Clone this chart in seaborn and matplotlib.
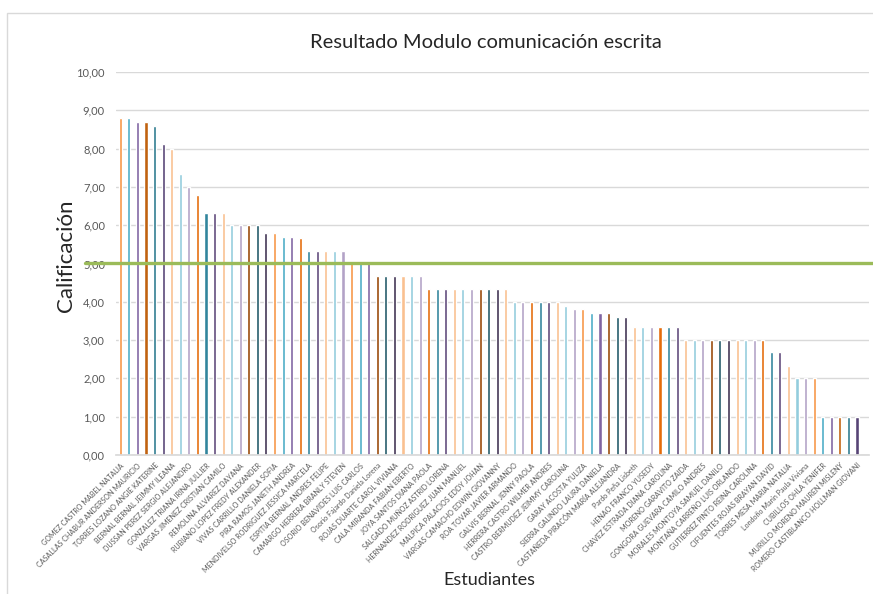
import matplotlib
matplotlib.use('Agg')
import matplotlib.pyplot as plt
import seaborn as sns
import pandas as pd
import numpy as np
from matplotlib.patches import Rectangle

# Calificaciones (87 estudiantes, ordenadas de mayor a menor)
notas = [8.8, 8.8, 8.7, 8.7, 8.6, 8.13, 8.0, 7.33, 7.0, 6.8,
         6.33, 6.33, 6.33, 6.0, 6.0, 6.0, 6.0, 5.8, 5.8, 5.7,
         5.7, 5.67, 5.33, 5.33, 5.33, 5.33, 5.33, 5.0, 5.0, 5.0,
         4.67, 4.67, 4.67, 4.67, 4.67, 4.67,
         4.33, 4.33, 4.33, 4.33, 4.33, 4.33, 4.33, 4.33, 4.33, 4.33,
         4.0, 4.0, 4.0, 4.0, 4.0, 4.0,
         3.9, 3.8, 3.8, 3.7, 3.7, 3.7, 3.6, 3.6,
         3.33, 3.33, 3.33, 3.33, 3.33, 3.33,
         3.0, 3.0, 3.0, 3.0, 3.0, 3.0, 3.0, 3.0, 3.0, 3.0,
         2.7, 2.7, 2.33, 2.0, 2.0, 2.0,
         1.0, 1.0, 1.0, 1.0, 1.0]

# Solo se rotula un estudiante de cada dos (como en el original)
etiquetas = [
    "GOMEZ CASTRO MABEL NATALIA", "CASALLAS CHABUR ANDERSON MAURICIO",
    "TORRES LOZANO ANGIE KATERINE", "BERNAL BERNAL JEIMMY ILEANA",
    "DUSSAN PEREZ SERGIO ALEJANDRO", "GONZALEZ TRIANA IRINA JULLIER",
    "VARGAS JIMENEZ CRISTIAN CAMILO", "REMOLINA ALVAREZ DAYANA",
    "RUBIANO LOPEZ FREDY ALEXANDER", "VIVAS CARRILLO DANIELA SOFIA",
    "PIRA RAMOS JANETH ANDREA", "MENDIVELSO RODRIGUEZ JESSICA MARCELA",
    "ESPITIA BERNAL ANDRES FELIPE", "CAMARGO HERRERA BRANLY STEVEN",
    "OSORIO BENAVIDES LUIS CARLOS", "Osorio Fajardo Daniela Lorena",
    "ROJAS DUARTE CAROL VIVIANA", "CALA MIRANDA FABIAN EBERTO",
    "JOYA SANTOS DIANA PAOLA", "SALGADO MUÑOZ ASTRID LORENA",
    "HERNANDEZ RODRIGUEZ JUAN MANUEL", "MALPICA PALACIOS EDDY JOHAN",
    "VARGAS CAMACHO EDWIN GIOVANNY", "ROA TOVAR JAVIER ARMANDO",
    "GALVIS BERNAL JENNY PAOLA", "HERRERA CASTRO WILMER ANDRES",
    "CASTRO BERMUDEZ JEIMMY CAROLINA", "GARAY ACOSTA YULIZA",
    "SIERRA GALINDO LAURA DANIELA", "CASTAÑEDA PIRACÓN MARÍA ALEJANDRA",
    "Pardo Peña Lisbeth", "HENAO FRANCO YUSEDY",
    "CHAVEZ ESTRADA DIANA CAROLINA", "MORENO GARAVITO ZAIDA",
    "GONGORA GUEVARA CAMILO ANDRES", "MORALES MONTOYA SAMUEL DANILO",
    "MONTAÑA CARREÑO LUIS ORLANDO", "GUTIERREZ PINTO REINA CAROLINA",
    "CIFUENTES ROJAS BRAYAN DAVID", "TORRES MESA MARIA NATALIA",
    "Londoño Marín Paula Viviana", "CUBILLOS OHLA YENIFER",
    "MURILLO MORENO MAUREN MISLENY", "ROMERO CASTIBLANCO HOLLMAN GIOVANI",
]

# Colores tipo Excel: familias naranja / aguamarina / morado con distintos tonos
tonos = {
    'base':    ["#F79646", "#4BACC6", "#8064A2"],
    'dark':    ["#C0620F", "#2C7A8F", "#574475"],
    'mid':     ["#E46C0A", "#31859C", "#5F497A"],
    'light':   ["#FAC090", "#93CDDD", "#B3A2C7"],
    'darkest': ["#984807", "#215968", "#3F3151"],
}
secuencia = ['base', 'dark', 'light', 'mid', 'light', 'darkest', 'base', 'mid',
             'light', 'base', 'darkest', 'light', 'mid', 'light', 'darkest',
             'light', 'mid', 'light', 'base', 'darkest', 'light', 'mid', 'light',
             'darkest', 'light', 'mid', 'light', 'base', 'dark']
colores = [tonos[secuencia[i // 3]][i % 3] for i in range(len(notas))]

df = pd.DataFrame({'pos': np.arange(len(notas)), 'nota': notas})

sns.set_theme(style="white")
plt.rcParams['font.family'] = ['Lato', 'DejaVu Sans']

fig = plt.figure(figsize=(8.73, 5.94), dpi=100)
ax = fig.add_axes([0.1329, 0.2340, 0.8625, 0.6448])

sns.barplot(data=df, x='pos', y='nota', hue='pos', palette=colores,
            legend=False, width=0.36, native_scale=True, ax=ax, saturation=1)

ax.set_ylim(0, 10)
ax.set_xlim(-0.5, 87.4)
ax.set_yticks(np.arange(0, 11, 1))
ax.set_yticklabels([f"{v:.2f}".replace('.', ',') for v in range(0, 11)],
                   fontsize=8, color="#595959")
ax.set_xticks(np.arange(0, len(notas), 2))
ax.set_xticklabels(etiquetas, rotation=45, ha='right', rotation_mode='anchor',
                   fontsize=5.1, color="#595959")
ax.tick_params(axis='x', length=0, pad=5)
ax.tick_params(axis='y', length=0, pad=8)
ax.set_xlabel("")
ax.set_ylabel("")

ax.grid(axis='y', color="#D9D9D9", linewidth=1)
ax.set_axisbelow(True)
for s in ['top', 'right', 'left']:
    ax.spines[s].set_visible(False)
ax.spines['bottom'].set_color("#D9D9D9")

# Línea de aprobación en 5,0
ax.axhline(5.0, xmin=-0.041, xmax=1.01, color="#9BBB59", linewidth=2.4,
           clip_on=False, zorder=5)

fig.text(489 / 873, 1 - 580 / 594, "Estudiantes", fontsize=13,
         color="#262626", ha='center', va='center')
fig.text(66 / 873, 1 - 256 / 594, "Calificación", fontsize=16,
         color="#262626", ha='center', va='center', rotation=90)
fig.text(486 / 873, 1 - 42 / 594, "Resultado Modulo comunicación escrita",
         fontsize=14.5, color="#262626", ha='center', va='center')

# Borde del área del gráfico
fig.patches.append(Rectangle((7 / 873, -0.1), 1.2, 1 - 13 / 594 + 0.1,
                             transform=fig.transFigure, fill=False,
                             edgecolor="#D9D9D9", linewidth=1))

fig.savefig("out.png", dpi=100)
